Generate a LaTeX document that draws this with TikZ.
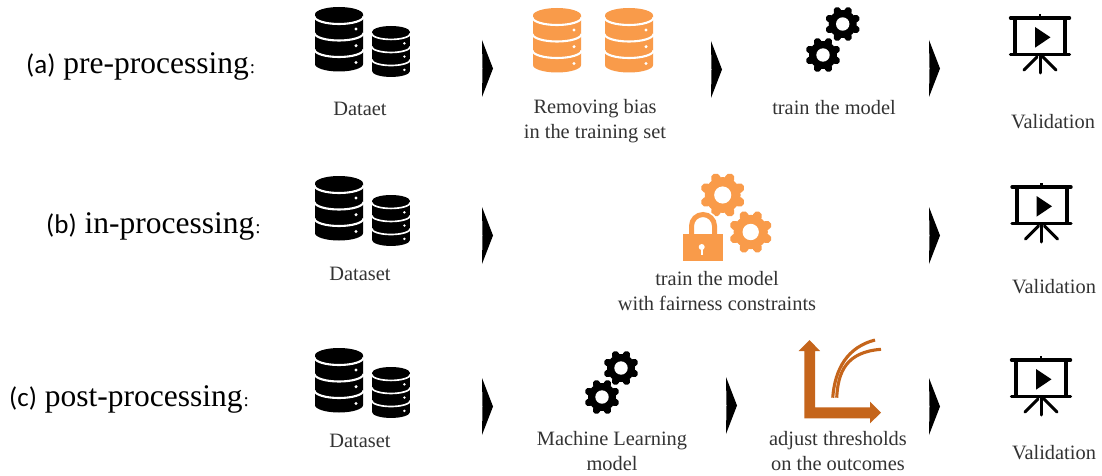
\documentclass[tikz,border=0pt]{standalone}
\usepackage{fontspec}
\setmainfont{Liberation Serif}
\newfontfamily\lblsans{Carlito}
\definecolor{lbl}{HTML}{333333}
\definecolor{orng}{HTML}{F99B4A}
\definecolor{burnt}{HTML}{C5651B}
\newcommand{\ttlmark}[1]{{\lblsans\fontsize{27}{30}\selectfont #1}}
\newcommand{\ttlcolon}{\kern1pt{\fontsize{19}{20}\selectfont :}}
\tikzset{
  lab/.style={font=\fontsize{20.4}{24.2}\selectfont,text=lbl,align=center,inner sep=0pt},
  ttl/.style={font=\fontsize{31.5}{34}\selectfont,text=black,anchor=base west,inner sep=0pt},
  chev/.style={fill=black,draw=none},
}
% database: #1 cx, #2 top y, #3 scale, #4 colour  (y axis points down, so arcs are mirrored)
\newcommand{\dbicon}[4]{%
\begin{scope}[shift={(#1,#2)},scale=#3]
  \fill[#4] (-24,7.5) arc[start angle=180,end angle=360,x radius=24,y radius=7.5]
     -- (24,57) arc[start angle=0,end angle=180,x radius=24,y radius=7.5] -- cycle;
  \foreach \yy in {9.5,26,42.5}{
    \draw[white,line width=#3*2.1pt] (-24.5,\yy) arc[start angle=180,end angle=0,x radius=24.5,y radius=7.5];
  }
  \foreach \yy in {22,38.7,55.5}{\fill[white] (17,\yy) circle[radius=1.7];}
\end{scope}}
% gear: #1 cx, #2 cy, #3 outer radius, #4 colour
\newcommand{\gearicon}[4]{%
\begin{scope}[shift={(#1,#2)},scale=#3/18]
  \fill[#4] (0,0) circle[radius=14];
  \foreach \aa in {22.5,67.5,...,359}{
    \draw[#4,line width=#3/18*7.4pt,line cap=round] (\aa:12) -- (\aa:14.3);
  }
  \fill[white] (0,0) circle[radius=6.7];
\end{scope}}
% screen: #1 cx, #2 top-bar y
\newcommand{\screenicon}[2]{%
\begin{scope}[shift={(#1,#2)}]
  \draw[black,line width=3.4pt,line cap=round] (-29.5,0) -- (29.5,0);
  \draw[black,line width=3.4pt,line cap=round] (-29.5,36.5) -- (29.5,36.5);
  \draw[black,line width=4pt] (-25,0) -- (-25,36.5);
  \draw[black,line width=4pt] (25,0) -- (25,36.5);
  \draw[black,line width=2.4pt] (0,-4) -- (0,0);
  \fill[black] (-5,9) -- (10.5,19.3) -- (-5,29.7) -- cycle;
  \draw[black,line width=3pt,line cap=round] (0,36.5) -- (0,55);
  \draw[black,line width=3pt,line cap=round] (-3,39) -- (-16,52);
  \draw[black,line width=3pt,line cap=round] (3,39) -- (16,52);
\end{scope}}
% chevron: #1 left x, #2 top y
\newcommand{\chevicon}[2]{%
  \fill[chev] (#1,#2) -- (#1+11,#2+28.5) -- (#1,#2+57) -- (#1+.5,#2+28.5) -- cycle;}
\begin{document}
\begin{tikzpicture}[x=1pt,y=-1pt]
\useasboundingbox (0,0) rectangle (1102,476);
\fill[white] (0,0) rectangle (1102,476);
% row a
\node[ttl] (ta) at (26,74) {\ttlmark{(a)} pre-processing\ttlcolon};
\dbicon{339}{7}{1}{black}
\dbicon{391}{26}{.79}{black}
\chevicon{482}{40}
\node[lab] (la) at (360,109) {Dataet};
\dbicon{557}{8}{1}{orng}
\dbicon{629}{8}{1}{orng}
\chevicon{711}{41}
\node[lab,anchor=north] (lb) at (595,99.5) {Removing bias\\in the training set};
\gearicon{842.7}{24}{18}{black}
\gearicon{823}{55}{18}{black}
\chevicon{929}{40}
\node[lab] (lc) at (834,108) {train the model};
\screenicon{1040}{18}
\node[lab] (ld) at (1053,122) {Validation};
% row b
\node[ttl] (tb) at (46,233) {\ttlmark{(b)} in-processing\ttlcolon};
\dbicon{339}{176}{1}{black}
\dbicon{391}{195}{.79}{black}
\chevicon{482}{207}
\node[lab] (le) at (360,274) {Dataset};
\gearicon{722.7}{195}{23}{orng}
\gearicon{750.7}{232}{22}{orng}
\draw[white,line width=8.5pt] (691.5,236) -- (691.5,226) arc[start angle=180,end angle=360,radius=11.5] -- (714.5,236);
\fill[orng] (683,234) rectangle (722.7,261);
\draw[orng,line width=5pt] (691.5,236) -- (691.5,226) arc[start angle=180,end angle=360,radius=11.5] -- (714.5,236);
\fill[white] (701.7,247) circle[radius=3];
\fill[white] (700.8,248) rectangle (702.6,255);
\node[lab,anchor=north] (lf) at (717,271.5) {train the model\\with fairness constraints};
\chevicon{929}{207}
\screenicon{1041.5}{187}
\node[lab] (lg) at (1054,287) {Validation};
% row c
\node[ttl] (tc) at (9,406) {\ttlmark{(c)} post-processing\ttlcolon};
\dbicon{339}{348}{1}{black}
\dbicon{391}{367}{.79}{black}
\chevicon{482}{378}
\node[lab] (lh) at (360,441) {Dataset};
\gearicon{621}{368}{18}{black}
\gearicon{602}{397}{18}{black}
\chevicon{726}{377}
\node[lab,anchor=north] (li) at (612,431.5) {Machine Learning\\model};
\fill[burnt] (804.3,418.3) -- (804.3,351) -- (798.7,351) -- (809.5,340) -- (820,351) -- (815,351) -- (815,407.3) -- (870,407.3) -- (870,401.7) -- (881,412.7) -- (870,423.3) -- (870,418.3) -- cycle;
\draw[burnt,line width=3.1pt] (832.7,397.7) .. controls (835,368) and (848,347) .. (875,340);
\draw[burnt,line width=3.1pt] (836.7,397.7) .. controls (838,372) and (846,352) .. (881,349.3);
\node[lab,anchor=north] (lj) at (838,431.5) {adjust thresholds\\on the outcomes};
\chevicon{929}{378}
\screenicon{1041}{360}
\node[lab] (lk) at (1054,453) {Validation};
\end{tikzpicture}
\end{document}
